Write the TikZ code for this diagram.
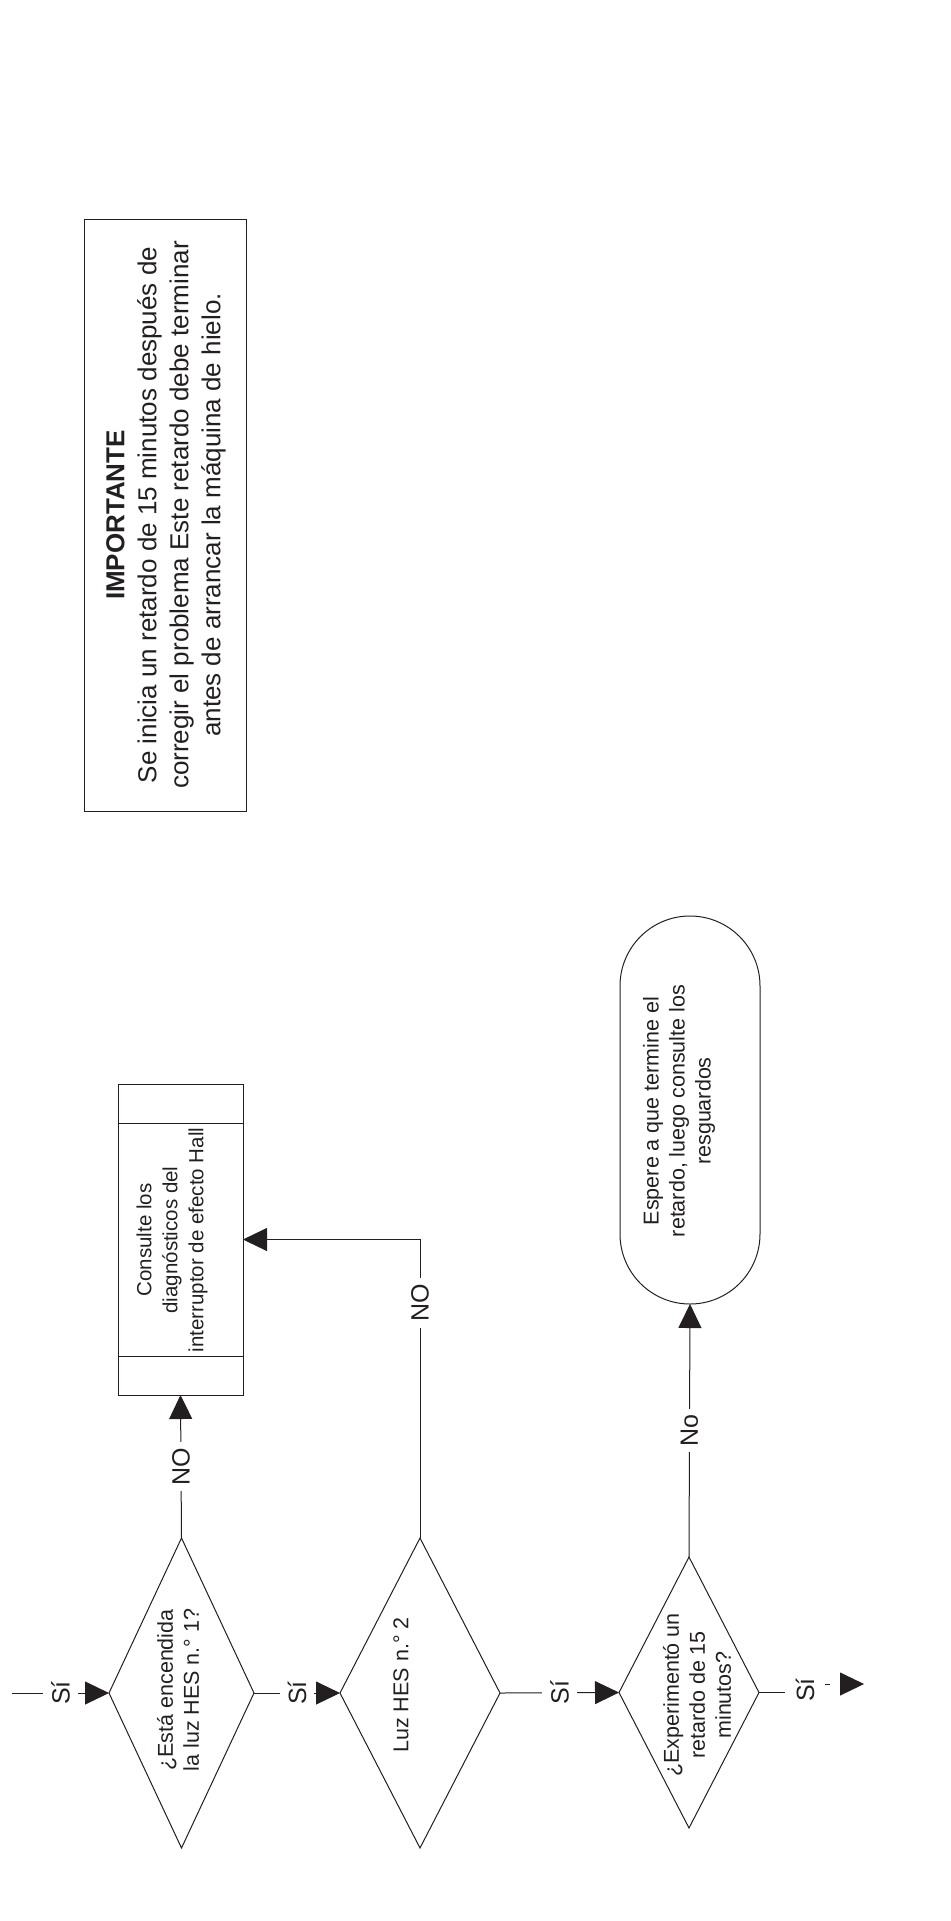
\documentclass[tikz,border=0pt]{standalone}
\usepackage{fontspec}
\setmainfont{Liberation Sans}
\usetikzlibrary{shapes.geometric, arrows.meta, calc}
\definecolor{ink}{RGB}{35,31,32}
\begin{document}
\begin{tikzpicture}[x=1pt, y=-1pt, line width=1pt, color=ink,
  arr/.style={-{Triangle[length=24pt,width=23pt]}},
  dia/.style={diamond, draw, inner sep=0pt, outer sep=0pt},
  boxshape/.style={rectangle, draw, inner sep=0pt, outer sep=0pt},
  ntext/.style={rotate=90, align=center, inner sep=0pt, font=\fontsize{21.5}{26}\selectfont},
  btext/.style={rotate=90, align=center, inner sep=0pt, font=\fontsize{20.5}{26}\selectfont},
  lab/.style={rotate=90, fill=white, inner xsep=6pt, inner ysep=8pt, font=\fontsize{25}{28}\selectfont},
  imptext/.style={rotate=90, align=center, inner sep=0pt, font=\fontsize{26}{32}\selectfont}
]
\useasboundingbox (0,0) rectangle (950,1921);

% shapes
\node[dia, minimum width=145pt, minimum height=310pt] (d1) at (181.5,1693) {};
\node[dia, minimum width=160pt, minimum height=310pt] (d2) at (420,1693) {};
\node[dia, minimum width=140pt, minimum height=271pt] (d3) at (689,1692.5) {};
\node[boxshape, minimum width=125pt, minimum height=311pt] (box) at (180.5,1239.5) {};
\node[boxshape, rounded corners=70pt, minimum width=140pt, minimum height=388pt] (term) at (690,1110) {};
\node[boxshape, minimum width=162pt, minimum height=592pt] (imp) at (165,515) {};

% box dividers
\draw ($(box.north west)+(0,39)$) -- ($(box.north east)+(0,39)$);
\draw ($(box.south west)+(0,-39)$) -- ($(box.south east)+(0,-39)$);

% texts
\node[ntext] (d1t) at (178,1690) {¿Está encendida\\la luz HES n.° 1?};
\node[ntext] (d2t) at (401,1685) {Luz HES n.° 2};
\node[ntext] (d3t) at (697,1695) {¿Experimentó un\\retardo de 15\\minutos?};
\node[btext] (boxt) at (172,1240) {Consulte los\\diagnósticos del\\interruptor de efecto Hall};
\node[ntext] (termt) at (679,1111) {Espere a que termine el\\retardo, luego consulte los\\resguardos};
\node[imptext] (impt) at (166,515) {\textbf{IMPORTANTE}\\Se inicia un retardo de 15 minutos después de\\corregir el problema Este retardo debe terminar\\antes de arrancar la máquina de hielo.};

% connectors
\coordinate (in) at (12,1693);
\draw[arr] (in) -- node[lab] (l0) {Sí} (d1.west);
\draw[arr] (d1.east) -- node[lab] (l1) {Sí} (d2.west);
\draw[arr] (d2.east) -- node[lab] (l2) {Sí} (d3.west);
\draw[arr] (d1.north) -- node[lab] (l3) {NO} (box.south);
\draw[arr] (d2.north) |- node[lab, pos=0.394] (l4) {NO} (box.east);
\draw[arr] (d3.north) -- node[lab] (l5) {No} (term.south);

% exit
\coordinate (x1) at (785,1692.5);
\coordinate (x2) at (825,1684);
\coordinate (x3) at (830,1684);
\coordinate (x4) at (840,1684);
\coordinate (x5) at (864,1684);
\draw (d3.east) -- (x1);
\node[lab, fill=none] (l6) at (805,1690) {Sí};
\draw (x2) -- (x3);
\draw[arr] (x4) -- (x5);
\end{tikzpicture}
\end{document}
